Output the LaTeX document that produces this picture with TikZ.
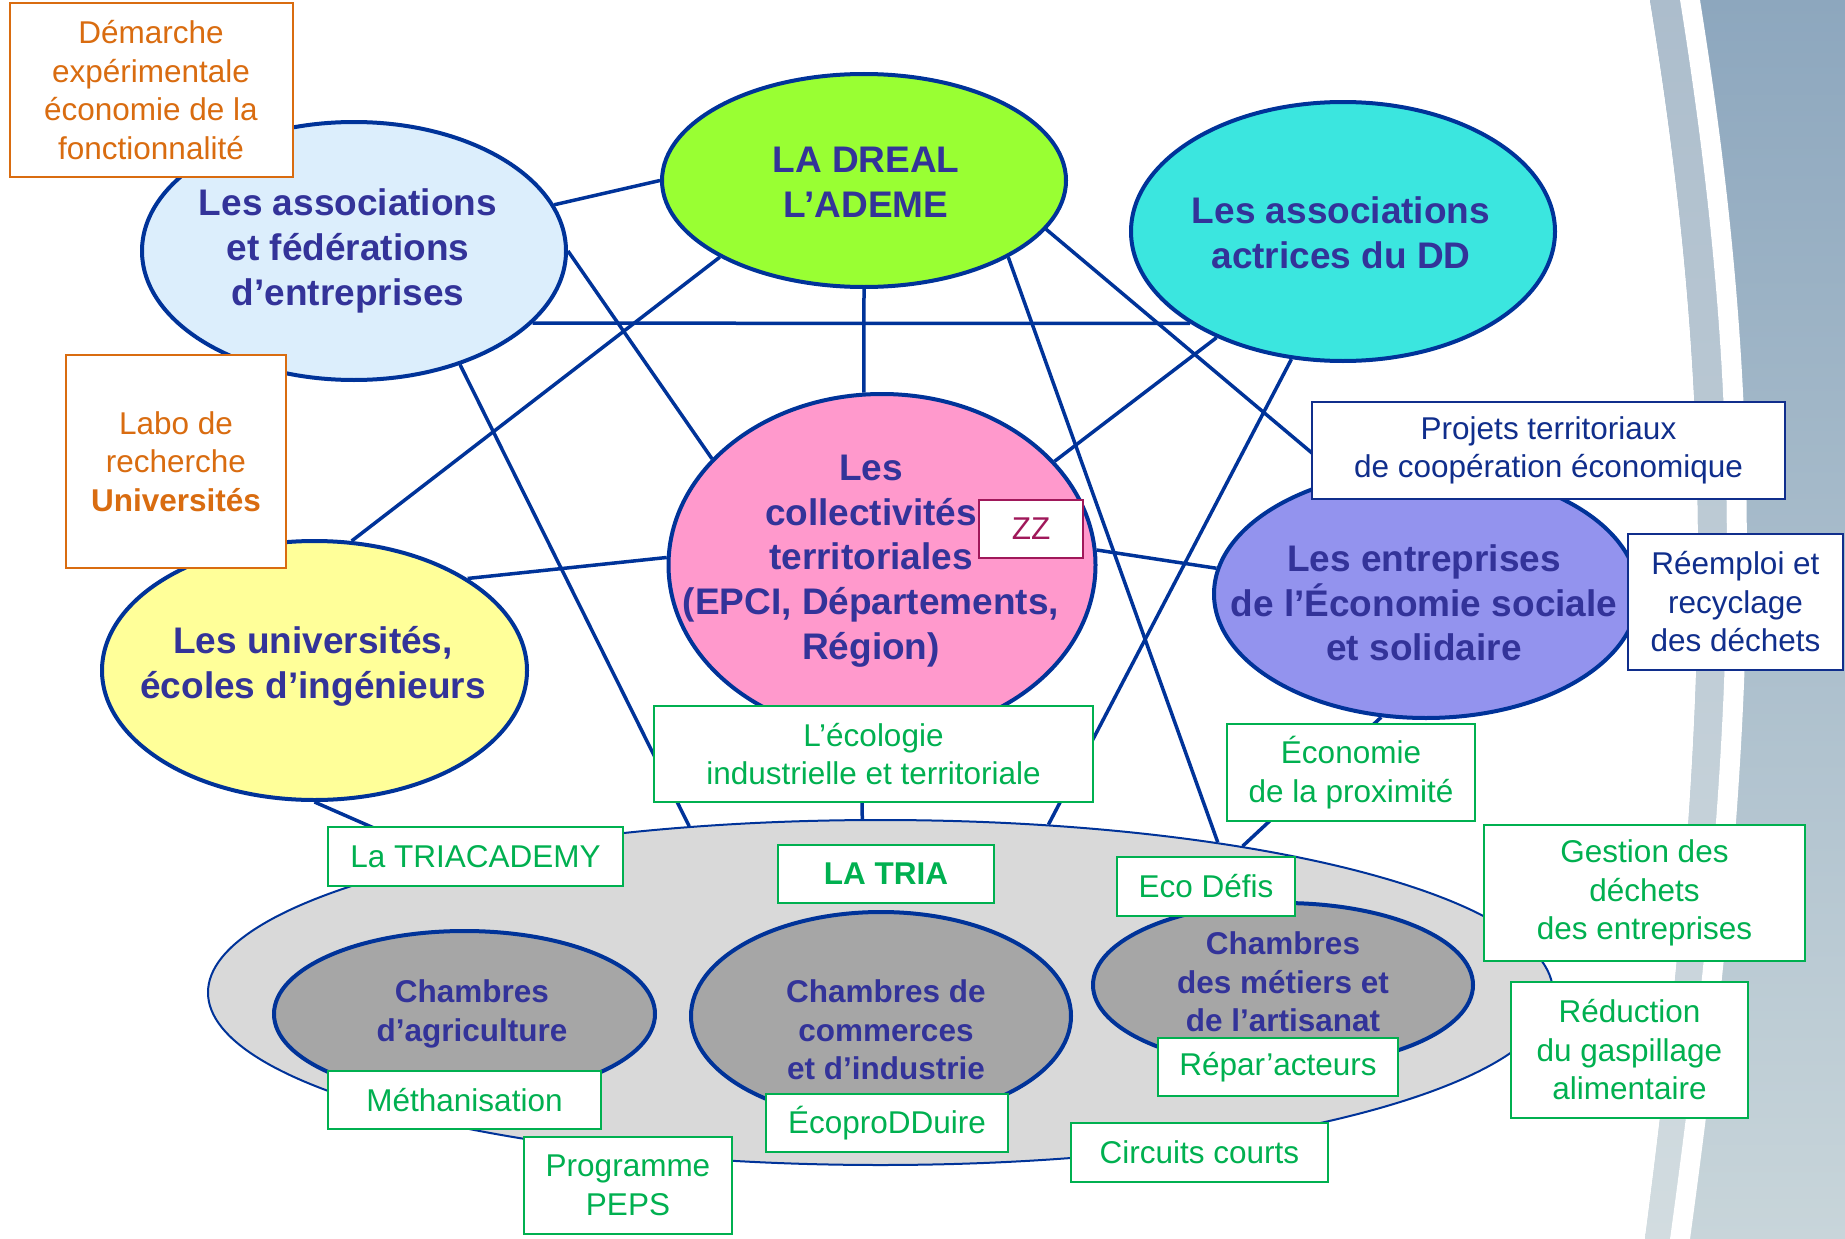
\documentclass[tikz,border=0pt]{standalone}
\usepackage{fontspec}
\setmainfont{Liberation Sans}
\usetikzlibrary{shapes.geometric}

\definecolor{linkcol}{RGB}{0,51,153}
\definecolor{actorink}{RGB}{51,51,153}
\definecolor{greenink}{RGB}{0,176,80}
\definecolor{orangeink}{RGB}{217,108,16}
\definecolor{navyink}{RGB}{16,46,140}
\definecolor{zzink}{RGB}{160,24,90}
\definecolor{fedfill}{RGB}{220,238,252}
\definecolor{drealfill}{RGB}{153,255,51}
\definecolor{ddfill}{RGB}{59,230,223}
\definecolor{collfill}{RGB}{255,153,204}
\definecolor{essfill}{RGB}{147,147,238}
\definecolor{univfill}{RGB}{255,255,153}
\definecolor{triafill}{RGB}{217,217,217}
\definecolor{chamfill}{RGB}{166,166,166}
\definecolor{slidetop}{RGB}{141,167,190}
\definecolor{slidebot}{RGB}{200,213,218}
\definecolor{bandtop}{RGB}{172,189,204}
\definecolor{bandbot}{RGB}{210,220,224}

\pgfdeclarelayer{bg}
\pgfdeclarelayer{links}
\pgfsetlayers{bg,links,main}

\begin{document}
\begin{tikzpicture}[x=1pt, y=-1pt,
    actor/.style={ellipse, draw=linkcol, line width=4pt, inner sep=0pt},
    actortext/.style={text=actorink, align=center, font=\fontsize{37}{44.7}\selectfont\bfseries},
    chambertext/.style={text=actorink, align=center, font=\fontsize{31.5}{38.5}\selectfont\bfseries},
    tag/.style={rectangle, line width=2.5pt, fill=white, align=center, inner sep=0pt, font=\fontsize{31.5}{38.5}\selectfont},
    greentag/.style={tag, draw=greenink, text=greenink},
    orangetag/.style={tag, draw=orangeink, text=orangeink, line width=2pt},
    bluetag/.style={tag, draw=navyink, text=navyink, line width=2pt},
    zztag/.style={tag, draw=zzink, text=zzink, line width=2pt},
    link/.style={draw=linkcol, line width=3.5pt}]

\useasboundingbox (0,0) rectangle (1845,1239);

\begin{pgfonlayer}{bg}
\fill[white] (0,0) rectangle (1845,1239);
\shade[top color=slidetop, bottom color=slidebot] (1650,0) .. controls (1715,400) and (1715,700) .. (1645,1239) -- (1845,1239) -- (1845,0) -- cycle;
\shade[top color=bandtop, bottom color=bandbot] (1650,0) .. controls (1715,400) and (1715,700) .. (1645,1239) -- (1670,1239) .. controls (1744,700) and (1744,400) .. (1680,0) -- cycle;
\fill[white] (1680,0) .. controls (1744,400) and (1744,700) .. (1670,1239) -- (1690,1239) .. controls (1764,700) and (1764,400) .. (1700,0) -- cycle;
\end{pgfonlayer}

\node[actor, fill=triafill, line width=2pt, minimum width=1345pt, minimum height=345pt] (tria) at (880.5,992.5) {};
\node[actor, fill=chamfill, minimum width=381pt, minimum height=166pt] (agri) at (464.5,1014) {};
\node[actor, fill=chamfill, minimum width=380pt, minimum height=208pt] (ccomm) at (881,1016) {};
\node[actor, fill=chamfill, minimum width=380pt, minimum height=164pt] (metiers) at (1283,985) {};
\node[actor, fill=fedfill, minimum width=424pt, minimum height=258pt] (fed) at (354,251) {};
\node[actor, fill=drealfill, minimum width=404pt, minimum height=213pt] (dreal) at (864,180.5) {};
\node[actor, fill=ddfill, minimum width=424pt, minimum height=259pt] (dd) at (1343,231.5) {};
\node[actor, fill=collfill, minimum width=427pt, minimum height=342pt] (coll) at (882,565) {};
\node[actor, fill=essfill, minimum width=424pt, minimum height=248pt] (ess) at (1426,594) {};
\node[actor, fill=univfill, minimum width=425pt, minimum height=259pt] (univ) at (314.5,670.5) {};

\node[actortext] (fedtxt) at (348,251) {Les associations\\et fédérations\\d’entreprises};
\node[actortext] (drealtxt) at (866,182) {LA DREAL\\L’ADEME};
\node[actortext] (ddtxt) at (1341,233) {Les associations\\actrices du DD};
\node[actortext] (colltxt) at (871,561) {Les\\collectivités\\territoriales\\(EPCI, Départements,\\Région)};
\node[actortext] (esstxt) at (1424,603) {Les entreprises\\de l’Économie sociale\\et solidaire};
\node[actortext] (univtxt) at (313,666) {Les universités,\\écoles d’ingénieurs};
\node[chambertext] (agritxt) at (472,1014) {Chambres\\d’agriculture};
\node[chambertext] (ccommtxt) at (886,1030) {Chambres de\\commerces\\et d’industrie};
\node[chambertext] (metierstxt) at (1283,982) {Chambres\\des métiers et\\de l’artisanat};

\begin{pgfonlayer}{links}
\draw[link] (fed.13) -- (dreal.180);
\draw[link] (fed.0) -- (coll.148);
\draw[link] (fed.338) -- (dd.211);
\draw[link] (fed.313) -- (tria.139);
\draw[link] (dreal.208) -- (univ.74);
\draw[link] (dreal.270) -- (coll.96);
\draw[link] (dreal.345) -- (ess.126);
\draw[link] (dreal.332) -- (tria.24);
\draw[link] (dd.220) -- (coll.31);
\draw[link] (dd.248) -- (tria.45);
\draw[link] (coll.178) -- (univ.31);
\draw[link] (coll.4) -- (ess.173);
\draw[link] (coll.263) -- (tria.96);
\draw[link] (univ.270) -- (tria.163);
\draw[link] (ess.250) -- (tria.22);
\end{pgfonlayer}

\node[orangetag, minimum width=283pt, minimum height=174pt] (demarche) at (151,90) {Démarche\\expérimentale\\économie de la\\fonctionnalité};
\node[orangetag, minimum width=220pt, minimum height=213pt] (labo) at (176,461.5) {Labo de\\recherche\\\textbf{Universités}};
\node[zztag, minimum width=104pt, minimum height=58pt] (zz) at (1031,529) {ZZ};
\node[bluetag, minimum width=473pt, minimum height=97pt] (projets) at (1548.5,450.5) {Projets territoriaux\\de coopération économique};
\node[bluetag, minimum width=215pt, minimum height=136pt] (reemploi) at (1735.5,602) {Réemploi et\\recyclage\\des déchets};
\node[greentag, minimum width=439pt, minimum height=96pt] (ecologie) at (873.5,754) {L’écologie\\industrielle et territoriale};
\node[greentag, minimum width=248pt, minimum height=97pt] (proximite) at (1351,772.5) {Économie\\de la proximité};
\node[greentag, minimum width=295pt, minimum height=59pt] (triacademy) at (475.5,856.5) {La TRIACADEMY};
\node[greentag, minimum width=216pt, minimum height=58pt] (latria) at (886,874) {\textbf{LA TRIA}};
\node[greentag, minimum width=178pt, minimum height=59pt] (ecodefis) at (1206,886.5) {Eco Défis};
\node[greentag, minimum width=321pt, minimum height=136pt] (gestion) at (1644.5,893) {Gestion des\\déchets\\des entreprises};
\node[greentag, minimum width=237pt, minimum height=136pt] (reduction) at (1629.5,1050) {Réduction\\du gaspillage\\alimentaire};
\node[greentag, minimum width=273pt, minimum height=58pt] (methanisation) at (464.5,1100) {Méthanisation};
\node[greentag, minimum width=208pt, minimum height=97pt] (peps) at (628,1185.5) {Programme\\PEPS};
\node[greentag, minimum width=242pt, minimum height=58pt] (ecoprod) at (887,1123) {ÉcoproDDuire};
\node[greentag, minimum width=240pt, minimum height=58pt] (repar) at (1278,1067) {Répar’acteurs};
\node[greentag, minimum width=257pt, minimum height=59pt] (circuits) at (1199.5,1152.5) {Circuits courts};
\end{tikzpicture}
\end{document}
